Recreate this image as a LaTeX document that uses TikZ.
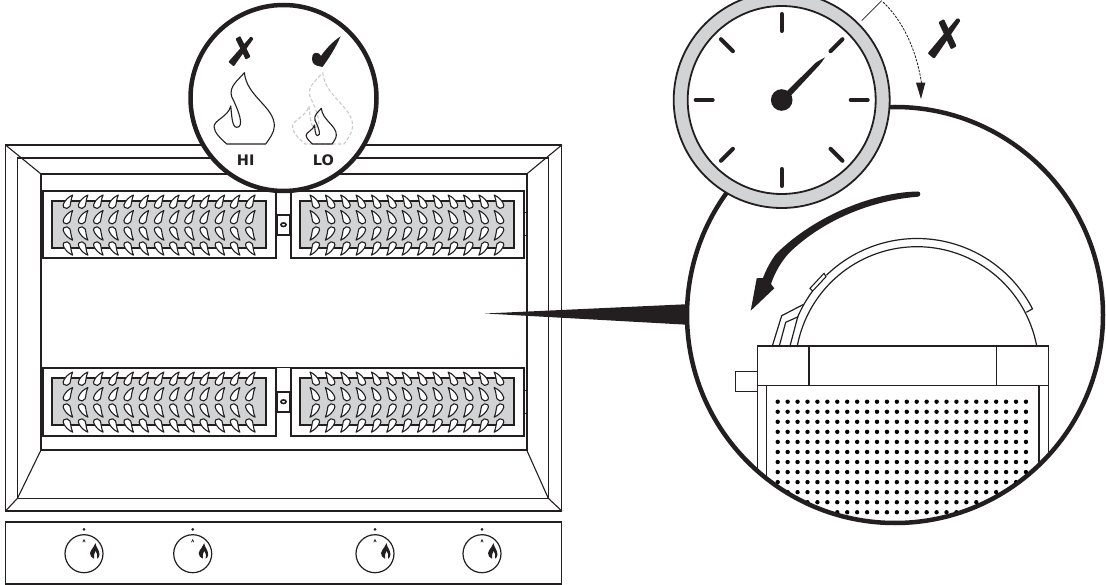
\documentclass[tikz,border=0pt]{standalone}
\usepackage{fontspec}
\setmainfont{DejaVu Sans}
\definecolor{ringgray}{HTML}{D1D3D4}
\definecolor{ink}{HTML}{231F20}
\definecolor{dashgray}{HTML}{C8CACC}
\tikzset{
 thinline/.style={draw=ink,line width=1.1pt},
 heavyline/.style={draw=ink,line width=2pt},
 ringline/.style={draw=ink,line width=4.5pt},
 tickmark/.style={draw=ink,line width=4pt,line cap=round},
 labeltext/.style={font=\bfseries\fontsize{14.5}{14.5}\selectfont,text=ink,inner sep=0pt},
 dropshape/.style={draw=ink,line width=1.1pt,fill=white,line join=round},
 brushmark/.style={fill=ink,draw=ink,line join=round},
 domeline/.style={draw=ink,line width=1.2pt,line join=round},
}
% large flame outline in 3x zoom units around (0,0)=base centre
\newcommand{\flameoutline}{(5,-214) .. controls (12,-142) and (95,-112) .. (95,-54) .. controls (95,-35) and (80,-15) .. (69,0) -- (-48,0) .. controls (-65,-15) and (-86,-35) .. (-86,-52) .. controls (-86,-72) and (-43,-82) .. (-36,-114) .. controls (-33,-92) and (-33,-50) .. (-18,-50) .. controls (7,-50) and (-13,-102) .. (-33,-142) .. controls (-43,-172) and (-13,-192) .. (5,-214) -- cycle}
% drop: lower-left corner of its box at (0,0), tip at upper right
\newcommand{\dropNE}{(10,-13.5) .. controls (5.5,-11.5) and (3,-8.5) .. (1.5,-6) .. controls (0.3,-4) and (0,-2.5) .. (1,-1.2) .. controls (2.5,0.6) and (6,0.3) .. (7.2,-2.2) .. controls (8.2,-5) and (8,-9) .. (10,-13.5) -- cycle}
\newcommand{\drops}[5]{% x0, row y, xscale, yscale, spacing
 \foreach \i in {0,...,12}{\begin{scope}[shift={(#1+#5*\i,#2)},xscale=#3,yscale=#4]\path[dropshape] \dropNE;\end{scope}}}
\newcommand{\burnerpanel}[1]{%
 \begin{scope}[shift={(0,#1)}]
  \draw[heavyline,fill=white] (43,190.7) rectangle (275.5,258.5);
  \draw[heavyline,fill=white] (291,190.7) rectangle (524,258.5);
  \draw[draw=ink,line width=1.3pt,fill=ringgray] (52,201) rectangle (266,248);
  \draw[draw=ink,line width=1.3pt,fill=ringgray] (300,201) rectangle (514,248);
  \drops{62.7}{208.5}{1}{1}{15.2}
  \drops{62.7}{224}{1}{1}{15.2}
  \drops{62.7}{226.7}{1}{-1}{15.2}
  \drops{62.7}{241.7}{1}{-1}{15.2}
  \drops{320}{208.5}{-1}{1}{15.35}
  \drops{320}{224}{-1}{1}{15.35}
  \drops{320}{226.7}{-1}{-1}{15.35}
  \drops{320}{241.7}{-1}{-1}{15.35}
  \draw[draw=ink,line width=1.1pt] (275.5,190.7) -- (291,190.7);
  \draw[draw=ink,line width=1.5pt,fill=white] (277,215) rectangle (290,235);
  \draw[draw=ink,line width=1.6pt,fill=white] (283.5,224.7) ellipse (2.6 and 1.8);
  \draw[draw=ink,line width=1pt] (524,213) -- (527,213) (524,236) -- (527,236);
 \end{scope}}
\newcommand{\knob}[2]{%
 \begin{scope}[shift={(#1,#2)}]
  \fill[ink] (0,-24.3) circle (1.5);
  \draw[draw=ink,line width=1.2pt,fill=white] (0,0) circle (19);
  \draw[draw=ink,line width=0.7pt] (-1.2,-11.5) -- (0,-14) -- (1.2,-11.5);
  \fill[ink] (11.5,-10.5) .. controls (12,-6) and (15.5,-4) .. (15.5,1) .. controls (15.5,3) and (14,4.5) .. (13,5) .. controls (14,2) and (13,-1) .. (11.5,-3) .. controls (10.5,-0.5) and (9.5,2) .. (10,5) .. controls (7.5,4) and (6,2) .. (6,-0.5) .. controls (6,-3) and (8,-4) .. (9,-6) .. controls (10,-8) and (11,-9.5) .. (11.5,-10.5) -- cycle;
 \end{scope}}
\begin{document}
\begin{tikzpicture}[x=1pt,y=-1pt,line join=miter]
\useasboundingbox (0,0) rectangle (1106,585);
\fill[white] (0,0) rectangle (1106,585);
% hood frame
\draw[thinline] (5.5,145) rectangle (561.8,511);
\draw[thinline] (17.5,158) rectangle (548.3,498.3);
\draw[thinline] (5.5,145) -- (41,174) (561.8,145) -- (526.7,174) (5.5,511) -- (17.5,498.3) (561.8,511) -- (548.3,498.3)
  (17.5,498.3) -- (41,450) (548.3,498.3) -- (526.7,450);
\draw[heavyline,fill=white] (41,174) rectangle (526.7,450);
\burnerpanel{0}
\burnerpanel{177}
% control panel
\draw[thinline] (5.5,522) rectangle (561.8,584);
\knob{84}{553.7}
\knob{192.7}{553.7}
\knob{375}{553.7}
\knob{482}{553.7}
% pointer wedge
\fill[ink] (485,313.5) -- (692,304) -- (692,325) -- cycle;
% big circle
\node[circle,minimum size=0pt,inner sep=0pt] (bigc) at (895,315) {};
\draw[ringline,fill=white] (bigc) circle (208);
\begin{scope}
 \clip (bigc) circle (206);
 \foreach \r in {0,...,11}{\foreach \c in {0,...,25}{\fill[black] (777.7+\c*9.93,401.7+\r*10.05) circle (2.2);}}
 \draw[thinline] (757.3,385.7) -- (757.3,530) (766.7,385.7) -- (766.7,530) (1039,385.7) -- (1039,530) (1048.3,385.7) -- (1048.3,530);
\end{scope}
% dome
\draw[domeline] plot[domain=10:170,samples=80] ({917+121.8*cos(\x)},{368.5-121.8*sin(\x)});
\draw[domeline] (1026.3,312.3) -- (1031.7,309.3) -- plot[domain=27.3:134.2,samples=60] ({917+130*cos(\x)},{368.5-130*sin(\x)});
\draw[domeline] plot[domain=143.4:156.5,samples=12] ({917+130*cos(\x)},{368.5-130*sin(\x)}) -- (790,346);
\draw[draw=ink,line width=1.1pt,fill=white] (810,288.3) -- (824,273.3) -- (826,276.7) -- (812.7,291) -- cycle;
\draw[domeline] (772.3,346) -- (781.7,315.7) -- (803.3,304.5) (779.3,346) -- (785.7,322.3) -- (798.3,316.7);
\draw[thinline,fill=white] (757.3,346) rectangle (1048.3,385.7);
\draw[thinline] (809,346) -- (809,385.7) (996.7,346) -- (996.7,385.7);
\draw[thinline,fill=white] (735.3,371.7) rectangle (757.3,391.7);
% curved arrow
\fill[ink] (918,191.5) .. controls (875,192) and (815,215) .. (776,254) .. controls (770,262) and (766,270) .. (763,278) -- (756.7,278.3) -- (750.7,310.7) -- (774.3,288.3) -- (771,284) .. controls (775,272) and (781,262) .. (789,253) .. controls (825,218) and (875,200) .. (918,196.7) .. controls (921,196.5) and (921,191.5) .. (918,191.5) -- cycle;
% clock
\node[circle,inner sep=0pt] (clock) at (781.7,100) {};
\draw[draw=ink,line width=1.8pt,fill=ringgray] (clock) circle (108);
\draw[draw=ink,line width=1.8pt,fill=white] (clock) circle (94);
\foreach \a in {0,45,...,315}{\draw[tickmark] (clock) ++(\a:69) -- ++(\a:17);}
\fill[ink] (clock) circle (10.8);
\fill[ink] (787,91) -- (816,62.5) .. controls (820,60) and (823,58.5) .. (825,57.3) .. controls (823.5,60) and (821,63) .. (819,65.5) -- (791,95.5) -- cycle;
% delay mark
\coordinate (tickA) at (861.7,20.7);
\coordinate (tickB) at (881.7,0.7);
\coordinate (arrowEnd) at (921.5,83);
\draw[draw=ink,line width=0.8pt] (tickA) -- (tickB);
\draw[draw=ink,line width=0.8pt,dash pattern=on 2.5pt off 1.2pt] (883,2) .. controls (902,20) and (916,48) .. (arrowEnd);
\fill[ink] (916,82.7) -- (925.3,82.7) -- (921,99) -- cycle;
% clock X
\path[brushmark,line width=2.5pt] (934,57) -- (929.4,53.2) -- (957.6,19.5) -- (959,20.5) -- cycle;
\path[brushmark,line width=2.5pt] (943.4,20.8) -- (940,22.6) -- (951.6,47.6) -- (955,45.8) -- cycle;
% HI LO lens
\node[circle,inner sep=0pt] (lens) at (283.5,98) {};
\draw[ringline,fill=white] (lens) circle (93);
\begin{scope}[shift={(242.7,144)},x=0.3333pt,y=-0.3333pt]
 \path[draw=ink,line width=1.1pt,line join=round] \flameoutline;
\end{scope}
\begin{scope}[shift={(321,144)},x=0.3333pt,y=-0.3333pt]
 \path[draw=dashgray,line width=1.1pt,dash pattern=on 3.5pt off 2.2pt] \flameoutline;
\end{scope}
\begin{scope}[shift={(320.5,144)},x=0.1667pt,y=-0.1667pt]
 \path[draw=ink,line width=1.1pt,line join=round] \flameoutline;
\end{scope}
\node[labeltext] (hi) at (245.7,160) {HI};
\node[labeltext] (lo) at (323.5,160) {LO};
% lens X
\path[brushmark,line width=2pt] (233.6,65) -- (229.8,61.8) -- (251,37.8) -- (252.2,38.8) -- cycle;
\path[brushmark,line width=2pt] (239.8,37.4) -- (236.8,39.2) -- (246.2,58.2) -- (249.2,56.4) -- cycle;
% lens check
\fill[ink] (340.5,36.5) .. controls (335.5,48) and (329,58) .. (322.5,67) .. controls (319,66.5) and (315,65.5) .. (313,63) .. controls (312,61) and (311.5,58) .. (312.5,55.5) .. controls (313.5,52.5) and (317,52) .. (319,53.5) .. controls (320,54.2) and (320.5,55) .. (321,56) .. controls (325,50) and (333,41) .. (340.5,36.5) -- cycle;
\end{tikzpicture}
\end{document}
